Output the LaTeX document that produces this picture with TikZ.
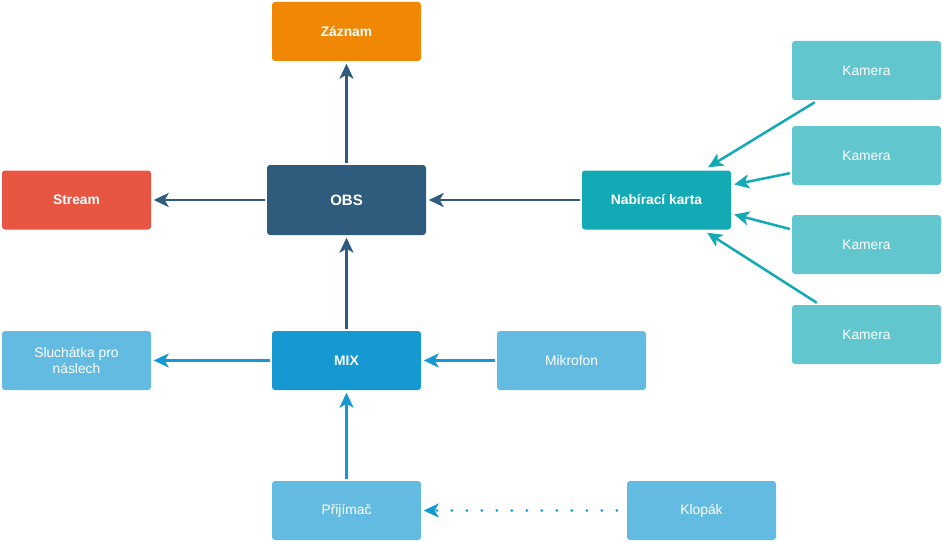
\documentclass[tikz,border=0pt]{standalone}
\usepackage{fontspec}
\setmainfont{Liberation Sans}
\usetikzlibrary{arrows.meta,calc}
\definecolor{corange}{HTML}{F08705}
\definecolor{cobs}{HTML}{2F5B7C}
\definecolor{cstream}{HTML}{E85642}
\definecolor{cnab}{HTML}{12AAB5}
\definecolor{ckam}{HTML}{61C6CE}
\definecolor{cmix}{HTML}{1699D3}
\definecolor{clight}{HTML}{64BBE2}
\begin{document}
\begin{tikzpicture}[x=1pt,y=-1pt,
  box/.style={rounded corners=3pt, minimum width=149pt, minimum height=59pt, inner sep=2pt,
    text=white, font=\fontsize{13.8}{16}\selectfont, align=center},
  bbox/.style={box, font=\fontsize{13.8}{16}\selectfont\bfseries},
  arr/.style={line width=2.5pt, -{Stealth[length=15pt,width=14pt,inset=4pt]},
    shorten >=2.5pt, shorten <=2pt},
  darr/.style={arr, dash pattern=on 0pt off 15pt, line cap=round, line width=3pt}]
\useasboundingbox (0,0) rectangle (943,543);
\node[bbox, fill=corange] (zaz) at (346.5,31.5) {Záznam};
\node[bbox, fill=cobs, minimum width=159pt, minimum height=70pt, font=\fontsize{15}{18}\selectfont\bfseries] (obs) at (346.5,200) {OBS};
\node[bbox, fill=cstream] (str) at (76.5,200) {Stream};
\node[bbox, fill=cnab] (nab) at (656.5,200) {Nabírací karta};
\node[box, fill=ckam] (k1) at (866.5,70.5) {Kamera};
\node[box, fill=ckam] (k2) at (866.5,155.5) {Kamera};
\node[box, fill=ckam] (k3) at (866.5,244.5) {Kamera};
\node[box, fill=ckam] (k4) at (866.5,334.5) {Kamera};
\node[box, fill=clight] (slu) at (76.5,360.5) {Sluchátka pro\\náslech};
\node[bbox, fill=cmix] (mix) at (346.5,360.5) {MIX};
\node[box, fill=clight] (mik) at (571.5,360.5) {Mikrofon};
\node[box, fill=clight] (pri) at (346.5,510.5) {Přijímač};
\node[box, fill=clight] (klo) at (701.5,510.5) {Klopák};

\draw[arr, cobs] (obs) -- (zaz);
\draw[arr, cobs] (obs) -- (str);
\draw[arr, cobs] (nab) -- (obs);
\draw[arr, cobs] (mix) -- (obs);
\draw[arr, cmix] (mix) -- (slu);
\draw[arr, cmix] (mik) -- (mix);
\draw[arr, cmix] (pri) -- (mix);
\draw[darr, cmix, shorten <=10pt] (klo) -- (pri);

\draw[arr, cnab, shorten >=0pt, shorten <=0pt] ($(k1.south west)+(23,2)$) -- ($(nab.north east)+(-23,-3)$);
\draw[arr, cnab, shorten >=0pt, shorten <=0pt] ($(k2.south west)+(-2,-12)$) -- ($(nab.east)+(3,-15.5)$);
\draw[arr, cnab, shorten >=0pt, shorten <=0pt] ($(k3.west)+(-2,-15.5)$) -- ($(nab.east)+(3,14.5)$);
\draw[arr, cnab, shorten >=0pt, shorten <=0pt] ($(k4.north west)+(25,-2)$) -- ($(nab.south east)+(-24,3)$);
\end{tikzpicture}
\end{document}
